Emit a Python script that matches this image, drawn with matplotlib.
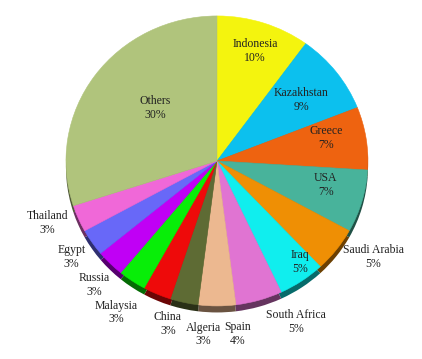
import numpy as np
import matplotlib.pyplot as plt
from matplotlib.colors import to_rgb

countries = ["Indonesia", "Kazakhstan", "Greece", "USA", "Saudi Arabia", "Iraq",
             "South Africa", "Spain", "Algeria", "China", "Malaysia", "Russia",
             "Egypt", "Thailand", "Others"]
shares = [10, 9, 7, 7, 5, 5, 5, 4, 3, 3, 3, 3, 3, 3, 30]
colors = ["#f4f40e", "#0cc0ee", "#ee6310", "#48b39b", "#ef8f04", "#10eeee",
          "#e074d2", "#ecb890", "#5e6b34", "#ee0a0a", "#08ee08", "#c000f5",
          "#6868f8", "#f068d8", "#b0c47c"]

# label placement: distance from centre and angle nudge (degrees)
label_r = [0.80, 0.70, 0.74, 0.74, 1.23, 0.89, 1.23, 1.20, 1.20, 1.17, 1.24, 1.18,
           1.17, 1.20, 0.55]
label_nudge = [-0.4, -0.7, 3.4, 3.3, 5.1, 4.1, 9.0, 6.6, 8.2, 7.3, 1.6, 1.6, 0.4, -2.5, -5.7]

plt.rcParams['font.family'] = ['Liberation Serif', 'DejaVu Serif']

fig = plt.figure(figsize=(4.22, 3.59), dpi=100)
ax = fig.add_axes([0, 0, 1, 1])

dark = [tuple(c * 0.45 for c in to_rgb(col)) for col in colors]
ax.pie(shares, colors=dark, startangle=90, counterclock=False, center=(0, -0.045),
       wedgeprops=dict(linewidth=0.4, edgecolor=None))
wedges, _ = ax.pie(shares, colors=colors, startangle=90, counterclock=False,
                   wedgeprops=dict(linewidth=0))
for w in wedges:
    w.set_edgecolor(w.get_facecolor())
    w.set_linewidth(0.4)

total = sum(shares)
start = 90.0
for name, val, r, nd in zip(countries, shares, label_r, label_nudge):
    span = 360.0 * val / total
    mid = np.deg2rad(start - span / 2 + nd)
    start -= span
    ax.text(r * np.cos(mid), r * np.sin(mid), f"{name}\n{val}%", ha='center',
            va='center', fontsize=8.5, color='#222222', linespacing=1.2)

ax.set_aspect('auto')
ax.set_xlim(-1.437, 1.358)
ax.set_ylim(-1.366, 1.110)
ax.axis('off')

fig.savefig("out.png", dpi=100)
